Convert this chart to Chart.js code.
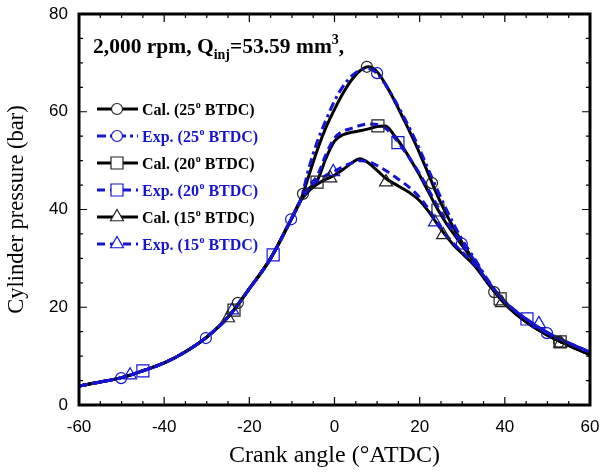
<!DOCTYPE html>
<html>
<head>
<meta charset="utf-8">
<script src="https://cdn.jsdelivr.net/npm/chart.js@4.4.1/dist/chart.umd.min.js"></script>
<style>
html,body{margin:0;padding:0;background:#fff;}
#wrap{width:600px;height:474px;}
</style>
</head>
<body>
<div id="wrap"><canvas id="c" width="600" height="474"></canvas></div>
<script>
// ---- data ----
const angle = [-60,-55,-50,-45,-40,-35,-30,-25,-20,-15,-10,-8,-6,-4,-2,0,2,4,6,8,10,12,14,16,18,20,22,24,26,28,30,33,36,40,45,50,55,60];
const compression = [3.9,4.7,5.6,7.0,8.6,10.9,13.9,18.0,23.8,30.0,38.3,41.8];
const cal25Tail = [47.0,52.3,56.8,60.5,63.8,66.5,68.4,69.2,68.2,65.6,62.4,58.9,55.3,51.5,47.4,43.2,39.5,36.2,33.2,29.2,25.1,20.8,17.0,14.3,12.2,10.3];
const exp25Tail = [48.5,54.0,58.3,62.2,65.2,67.3,68.5,68.8,67.8,65.5,62.6,59.4,56.0,52.3,48.3,44.3,40.5,37.0,33.8,29.8,25.6,21.2,17.6,14.8,12.7,10.8];
const cal20Tail = [44.3,46.0,50.5,54.0,55.3,55.8,56.1,56.5,57.0,57.1,55.2,52.8,50.0,47.0,43.7,40.4,37.5,35.0,32.6,29.0,25.0,20.8,17.0,14.3,12.2,10.3];
const exp20Tail = [44.8,47.0,51.3,54.6,56.0,56.6,57.2,57.5,57.4,56.6,54.8,52.5,50.0,47.3,44.2,41.0,38.0,35.4,33.0,29.4,25.4,21.2,17.6,14.8,12.7,10.8];
const cal15Tail = [43.8,45.2,46.2,47.0,48.2,49.5,50.4,49.5,48.0,46.4,45.3,44.3,43.2,41.8,39.7,37.2,34.8,32.7,31.0,28.4,24.9,20.7,17.0,14.3,12.2,10.3];
const exp15Tail = [44.3,45.8,47.0,47.8,48.8,49.5,50.0,49.8,49.0,48.0,46.8,45.6,44.2,42.5,40.2,37.5,35.0,33.0,31.3,28.7,25.3,21.1,17.6,14.8,12.7,10.8];

const cal25MarkX = [-22.7,-7.4,7.6,22.9,37.5,52.7];
const cal25MarkY = [20.9,43.2,69.2,45.4,23.1,12.9];
const exp25MarkX = [-50.1,-30.2,-10.2,10.0,29.9,49.9];
const exp25MarkY = [5.5,13.7,38.0,67.9,33.0,14.7];
const cal20MarkX = [-23.6,-4.1,10.2,24.3,38.9,53.0];
const cal20MarkY = [19.4,45.6,57.1,39.9,21.7,12.9];
const exp20MarkX = [-45.0,-14.4,14.9,45.2];
const exp20MarkY = [7.0,30.7,53.7,17.6];
const cal15MarkX = [-25.0,-1.0,12.1,25.5,39.3,53.0];
const cal15MarkY = [17.8,46.4,45.6,34.8,20.9,12.6];
const exp15MarkX = [-48.0,-24.0,-0.3,23.6,48.0];
const exp15MarkY = [6.1,19.4,47.7,37.4,16.6];

const xTicks = [-60,-40,-20,0,20,40,60];
const yTicks = [0,20,40,60,80];
const seriesNames = ['Cal. (25','Exp. (25','Cal. (20','Exp. (20','Cal. (15','Exp. (15'];

// ---- build ----
const BLUE = '#1414d2';
function pts(tail){ const ys = compression.concat(tail); return angle.map((a,i)=>({x:a,y:ys[i]})); }
function mk(xs,ys){ return xs.map((a,i)=>({x:a,y:ys[i]})); }

const styles = [
  {color:'#000', dash:[], shape:'circle', r:5.5, mcol:'#222'},
  {color:BLUE, dash:[9,4,3,4], shape:'circle', r:5.5, mcol:BLUE},
  {color:'#000', dash:[], shape:'rect', r:8.5, mcol:'#222'},
  {color:BLUE, dash:[8,5], shape:'rect', r:8.5, mcol:BLUE},
  {color:'#000', dash:[], shape:'triangle', r:7.5, mcol:'#222'},
  {color:BLUE, dash:[8,5], shape:'triangle', r:7.5, mcol:BLUE},
];
const lines = [pts(cal25Tail),pts(exp25Tail),pts(cal20Tail),pts(exp20Tail),pts(cal15Tail),pts(exp15Tail)];
const marks = [mk(cal25MarkX,cal25MarkY),mk(exp25MarkX,exp25MarkY),mk(cal20MarkX,cal20MarkY),mk(exp20MarkX,exp20MarkY),mk(cal15MarkX,cal15MarkY),mk(exp15MarkX,exp15MarkY)];

const datasets = [];
lines.forEach((d,i)=>{
  const s = styles[i];
  datasets.push({label:seriesNames[i], data:d, borderColor:s.color, borderWidth:3, borderDash:s.dash,
    pointRadius:0, cubicInterpolationMode:'monotone', fill:false, order: i%2===0 ? 20 : 10});
  datasets.push({label:seriesNames[i]+' marks', data:marks[i], showLine:false, pointStyle:s.shape,
    pointRadius:s.r, pointBorderColor:s.mcol, pointBackgroundColor:'rgba(0,0,0,0)', pointBorderWidth:1.2, order:5});
});

const SERIF = '"Liberation Serif","Times New Roman",serif';
const SANS = '"Liberation Sans",Arial,sans-serif';

const decor = {
  id:'decor',
  afterDraw(chart){
    const ctx = chart.ctx, ca = chart.chartArea, xs = chart.scales.x, ys = chart.scales.y;
    ctx.save();
    // frame
    ctx.strokeStyle='#000'; ctx.lineWidth=3; ctx.setLineDash([]);
    ctx.strokeRect(ca.left, ca.top, ca.right-ca.left, ca.bottom-ca.top);
    ctx.lineWidth=1.2;
    for(let v=-60; v<=60; v+=5){
      const p = xs.getPixelForValue(v), L = (v%20===0)?8:4;
      ctx.beginPath(); ctx.moveTo(p,ca.bottom); ctx.lineTo(p,ca.bottom-L);
      ctx.moveTo(p,ca.top); ctx.lineTo(p,ca.top+L); ctx.stroke();
    }
    for(let v=0; v<=80; v+=5){
      const p = ys.getPixelForValue(v), L = (v%20===0)?8:4;
      ctx.beginPath(); ctx.moveTo(ca.left,p); ctx.lineTo(ca.left+L,p);
      ctx.moveTo(ca.right,p); ctx.lineTo(ca.right-L,p); ctx.stroke();
    }
    // annotation title
    ctx.fillStyle='#000'; ctx.textBaseline='alphabetic';
    let x = 93, y = 53;
    const big = 'bold 21.5px '+SERIF, small = 'bold 14px '+SERIF;
    const seg = (t,f,dy)=>{ ctx.font=f; ctx.fillText(t,x,y+dy); x += ctx.measureText(t).width; };
    seg('2,000 rpm, Q',big,0); seg('inj',small,6); seg('=53.59 mm',big,0); seg('3',small,-9); seg(',',big,0);
    // legend
    const rowY = [109,136,163,190,217,244];
    ctx.textBaseline='middle';
    rowY.forEach((ry,i)=>{
      const s = styles[i];
      ctx.strokeStyle=s.color; ctx.lineWidth=3; ctx.setLineDash(s.dash);
      ctx.beginPath(); ctx.moveTo(97,ry); ctx.lineTo(138,ry); ctx.stroke();
      ctx.setLineDash([]);
      ctx.fillStyle='#fff';
      ctx.lineWidth=1.2; ctx.strokeStyle=s.mcol;
      Chart.helpers.drawPoint(ctx,{pointStyle:s.shape, radius:s.r, borderWidth:1.2}, 117, ry);
      ctx.fillStyle = s.color==='#000' ? '#000' : BLUE;
      let tx = 142;
      ctx.font='bold 16px '+SERIF; const t1 = seriesNames[i];
      ctx.fillText(t1,tx,ry+2); tx += ctx.measureText(t1).width+0.5;
      ctx.font='bold 10px '+SERIF; ctx.fillText('o',tx,ry-4); tx += ctx.measureText('o').width;
      ctx.font='bold 16px '+SERIF; ctx.fillText(' BTDC)',tx,ry+2);
    });
    ctx.restore();
  }
};

new Chart(document.getElementById('c'), {
  type:'line',
  data:{datasets},
  options:{
    responsive:false, animation:false, devicePixelRatio:1,
    layout:{padding:{top:14,right:10,left:0,bottom:0}},
    plugins:{legend:{display:false}, tooltip:{enabled:false}},
    scales:{
      x:{type:'linear', min:-60, max:60,
        afterBuildTicks(s){ s.ticks = xTicks.map(v=>({value:v})); },
        afterFit(s){ s.height = 69; s.paddingLeft = 0; s.paddingRight = 0; },
        grid:{display:false, drawTicks:false}, border:{display:false},
        ticks:{color:'#000', font:{family:SANS, size:17}, padding:12, maxRotation:0},
        title:{display:true, text:'Crank angle (°ATDC)', color:'#000', font:{family:SERIF, size:24}, padding:{top:0,bottom:4}}
      },
      y:{type:'linear', min:0, max:80,
        afterBuildTicks(s){ s.ticks = yTicks.map(v=>({value:v})); },
        afterFit(s){ s.width = 79; s.paddingTop = 0; s.paddingBottom = 0; },
        grid:{display:false, drawTicks:false}, border:{display:false},
        ticks:{color:'#000', font:{family:SANS, size:17}, padding:11},
        title:{display:true, text:'Cylinder pressure (bar)', color:'#000', font:{family:SERIF, size:22.5}, padding:{top:4,bottom:0}}
      }
    }
  },
  plugins:[decor]
});
</script>
</body>
</html>
